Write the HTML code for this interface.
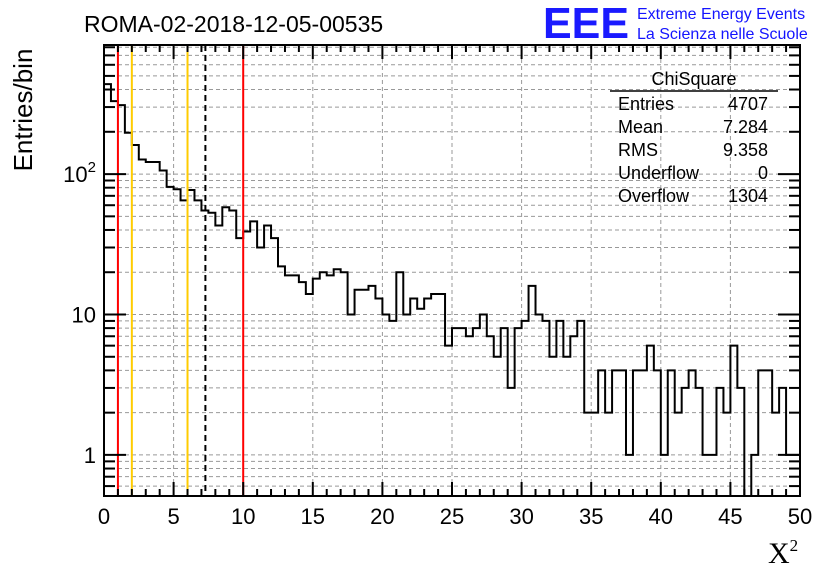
<!DOCTYPE html>
<html><head><meta charset="utf-8"><style>
body{margin:0;background:#fff;}
svg{display:block;font-family:"Liberation Sans",sans-serif;}
</style></head><body>
<svg id="c" width="836" height="572">
<g id="grid"></g>
<g id="marks"></g>
<g id="axes"></g>
<text x="84" y="32" font-size="23">ROMA-02-2018-12-05-00535</text>
<text x="543" y="38" font-size="44" font-weight="bold" fill="#1a1aff" textLength="86" lengthAdjust="spacingAndGlyphs">EEE</text>
<text x="637" y="19" font-size="16" fill="#1414ff">Extreme Energy Events</text>
<text x="637" y="39" font-size="16" fill="#1414ff">La Scienza nelle Scuole</text>
<text transform="translate(32,110) rotate(-90)" text-anchor="middle" font-size="26">Entries/bin</text>
<text x="768" y="563" font-size="30" font-family="Liberation Serif,serif">X<tspan font-size="17" dy="-12">2</tspan></text>
<g font-size="18">
<text x="694" y="85" text-anchor="middle">ChiSquare</text>
<line x1="610" y1="91" x2="778" y2="91" stroke="#000" stroke-width="1.5"/>
<text x="618" y="110">Entries</text><text x="768" y="110" text-anchor="end">4707</text>
<text x="618" y="133">Mean</text><text x="768" y="133" text-anchor="end">7.284</text>
<text x="618" y="156">RMS</text><text x="768" y="156" text-anchor="end">9.358</text>
<text x="618" y="179">Underflow</text><text x="768" y="179" text-anchor="end">0</text>
<text x="618" y="202">Overflow</text><text x="768" y="202" text-anchor="end">1304</text>
</g>
</svg>
<script>
const counts=[437,331,310,197,161,127,122,122,106,81,78,65,77,65,55,53,43,58,55,35,39,46,30,43,35,22,19,19,17,14,18,20,19,21,20,10,15,15,16,13,10,9,20,10,13,11,13,14,14,6,8,8,7,8,10,7,5,8,3,8,9,16,10,9,5,9,5,7,9,2,2,4,2,4,4,1,4,4,6,4,1,4,2,3,4,3,1,1,3,2,6,3,0,1,4,4,2,3,1,1];
const binWidth=0.5;
const xTicks=[0,5,10,15,20,25,30,35,40,45,50];
const yTickLabels=[1,10,100];
const redLines=[1,10];
const orangeLines=[2,6];
const meanLine=[7.284];
const L=104,R=800,T=45,B=496,XMIN=0,XMAX=50,YMIN=0.51,YMAX=830;
const xs=v=>L+(v-XMIN)/(XMAX-XMIN)*(R-L);
const ys=v=>v<=0?B+20:B-(Math.log10(v)-Math.log10(YMIN))/(Math.log10(YMAX)-Math.log10(YMIN))*(B-T);
const NS='http://www.w3.org/2000/svg';
function mk(parent,tag,attrs){const e=document.createElementNS(NS,tag);for(const k in attrs)e.setAttribute(k,attrs[k]);parent.appendChild(e);return e;}
const grid=document.getElementById('grid'),marks=document.getElementById('marks'),axes=document.getElementById('axes');
xTicks.forEach(t=>{if(t>XMIN&&t<XMAX){const l=mk(grid,'line',{x1:xs(t),x2:xs(t),y1:T,y2:B,stroke:'#999','stroke-dasharray':'4,3'});

}});
for(let d=-1;d<=2;d++)for(let m=1;m<10;m++){const v=m*Math.pow(10,d);if(v<YMIN||v>YMAX)continue;
const l=mk(grid,'line',{x1:L,x2:R,y1:ys(v),y2:ys(v),stroke:'#999','stroke-dasharray':'4,3'});

}
let d='';counts.forEach((c,i)=>{const x0=xs(i*binWidth),x1=xs((i+1)*binWidth),y=Math.min(ys(c),B);d+=(i?'L':'M')+x0+','+y+'L'+x1+','+y;});
const clip=mk(document.getElementById('c'),'clipPath',{id:'pc'});mk(clip,'rect',{x:L,y:T,width:R-L,height:B-T});
const h=mk(marks,'path',{d:d,fill:'none',stroke:'#000','stroke-width':2,'clip-path':'url(#pc)'});


redLines.forEach(v=>{const l=mk(marks,'line',{x1:xs(v),x2:xs(v),y1:T,y2:B,stroke:'#f00','stroke-width':2});

});
orangeLines.forEach(v=>{const l=mk(marks,'line',{x1:xs(v),x2:xs(v),y1:T,y2:B,stroke:'#fc0','stroke-width':2});

});
meanLine.forEach(v=>{const l=mk(marks,'line',{x1:xs(v),x2:xs(v),y1:T,y2:B,stroke:'#000','stroke-width':2,'stroke-dasharray':'6,4'});

});
const f=mk(axes,'rect',{x:L,y:T,width:R-L,height:B-T,fill:'none',stroke:'#000','stroke-width':2});


for(let v=XMIN;v<=XMAX;v++){const major=v%5===0,len=major?14:7;
mk(axes,'line',{x1:xs(v),x2:xs(v),y1:B,y2:B-len,stroke:'#000','stroke-width':2});
mk(axes,'line',{x1:xs(v),x2:xs(v),y1:T,y2:T+len,stroke:'#000','stroke-width':2});}
xTicks.forEach(t=>{const tx=mk(axes,'text',{x:xs(t),y:B+28,'text-anchor':'middle','font-size':22});tx.textContent=t;

});
for(let dd=-1;dd<=2;dd++)for(let m=1;m<10;m++){const v=m*Math.pow(10,dd);if(v<YMIN||v>YMAX)continue;const len=m===1?22:11;
mk(axes,'line',{x1:L,x2:L+len,y1:ys(v),y2:ys(v),stroke:'#000','stroke-width':2});
mk(axes,'line',{x1:R,x2:R-len,y1:ys(v),y2:ys(v),stroke:'#000','stroke-width':2});}
yTickLabels.forEach(v=>{const tx=mk(axes,'text',{x:L-8,y:ys(v)+8,'text-anchor':'end','font-size':22});
if(v===100){tx.textContent='10';const s=mk(tx,'tspan',{dy:-10,'font-size':15});s.textContent='2';}else tx.textContent=v;

});
</script>
</body></html>
